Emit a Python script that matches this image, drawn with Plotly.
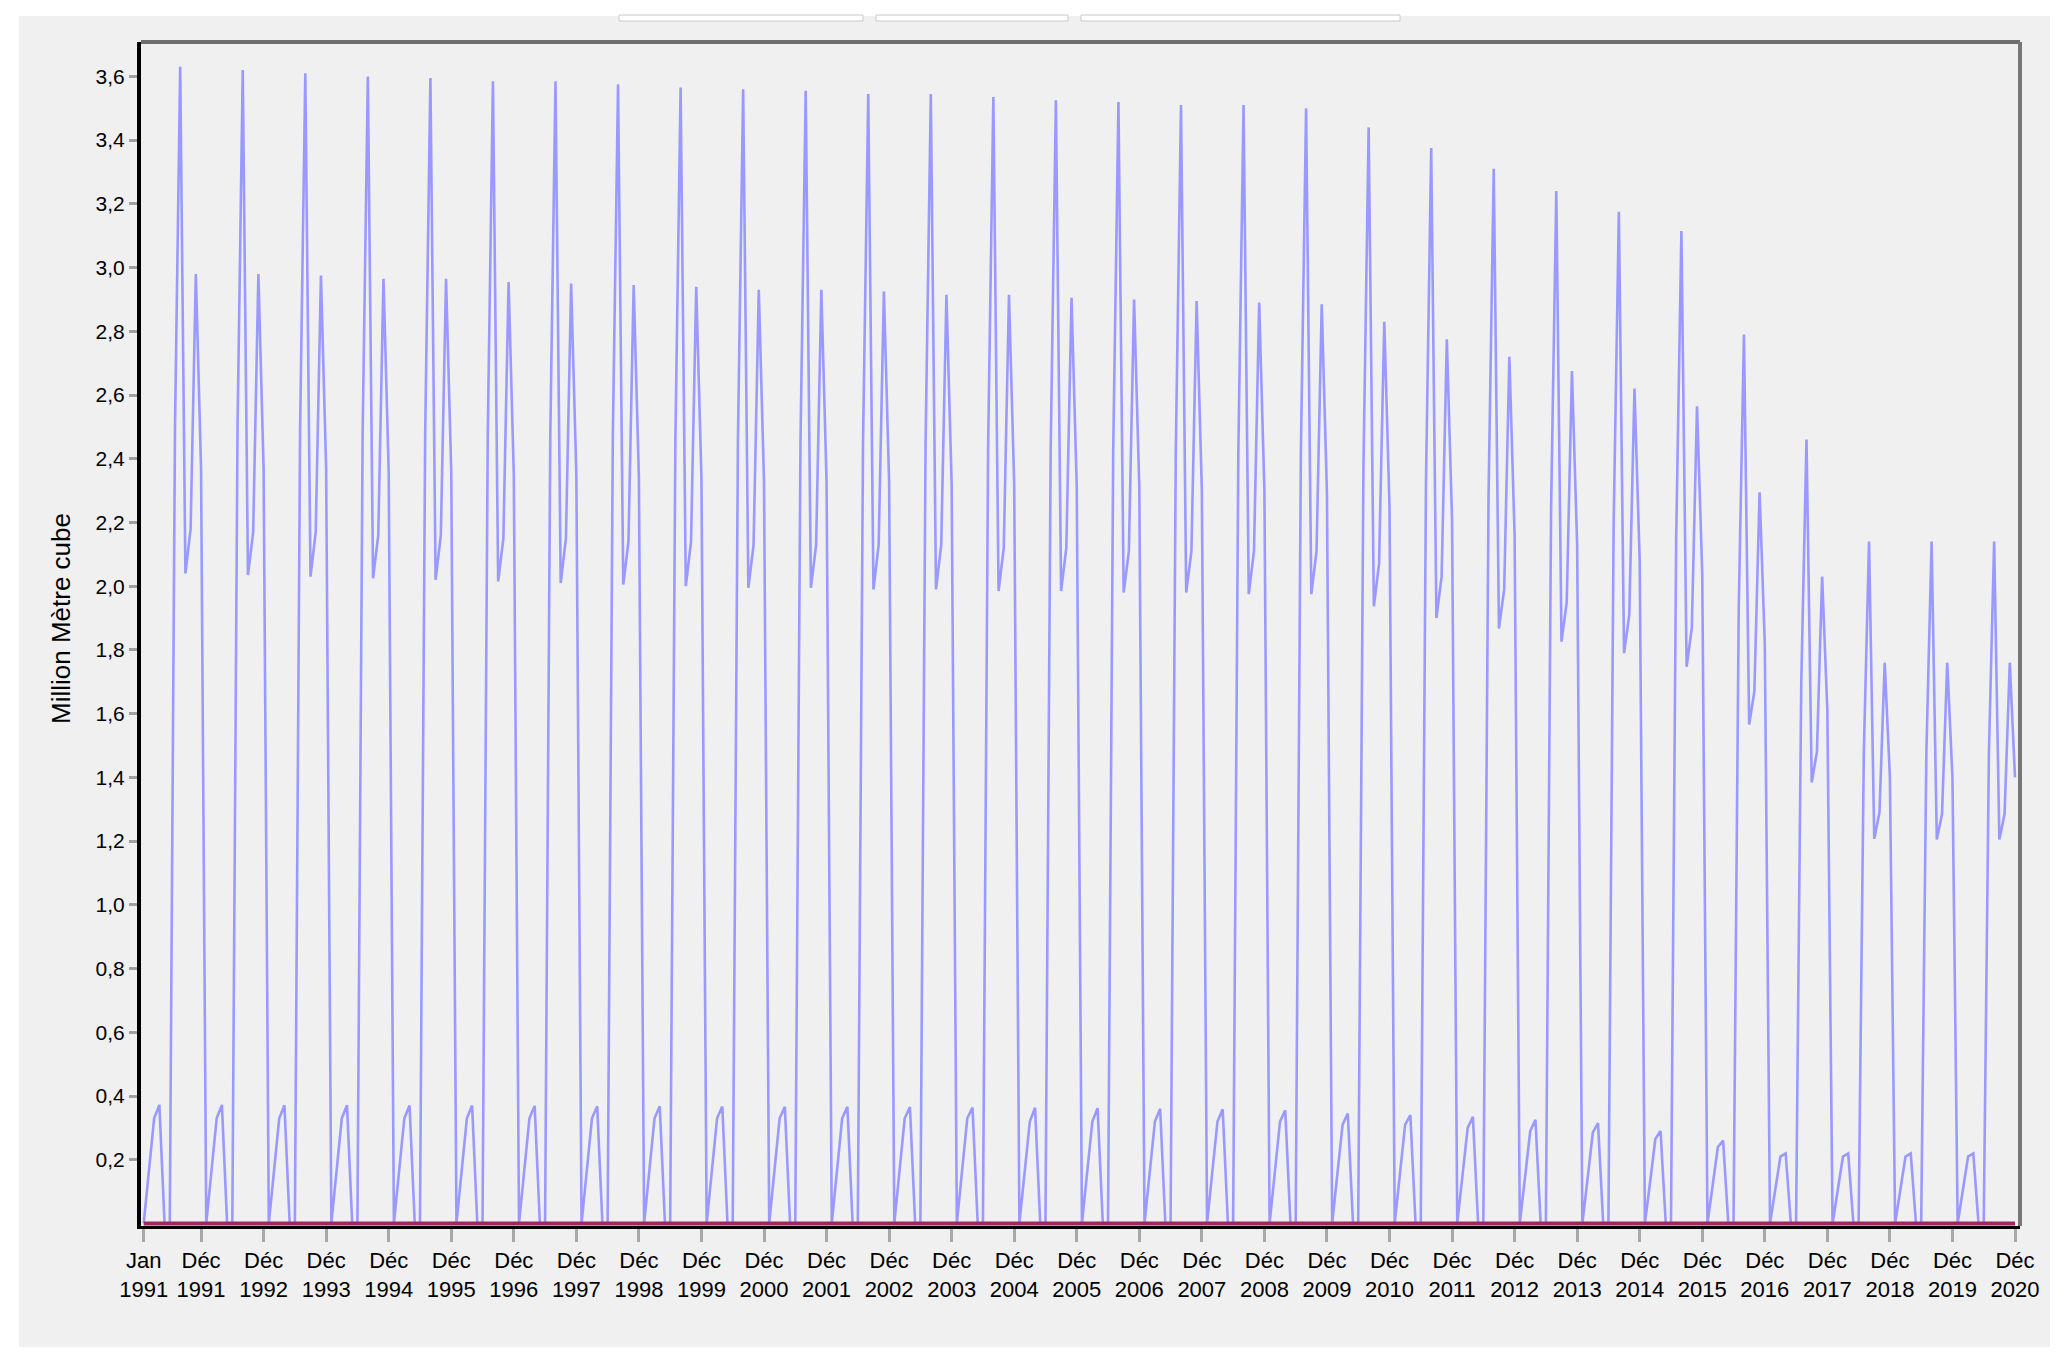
import plotly.graph_objects as go

# ---------------- data ----------------
years = list(range(1991, 2021))
month_names = ["Jan", "Fév", "Mar", "Avr", "Mai", "Jun", "Jul", "Aoû", "Sep", "Oct", "Nov", "Déc"]

jan = [0.0] * 30
feb = [0.165] * 14 + [0.16] * 5 + [0.155, 0.155, 0.15, 0.145, 0.14, 0.13, 0.12, 0.105, 0.105, 0.105, 0.105]
mar = [0.33] * 14 + [0.32] * 5 + [0.31, 0.31, 0.30, 0.29, 0.285, 0.265, 0.24, 0.21, 0.21, 0.21, 0.21]
apr = [0.372, 0.372, 0.371, 0.371, 0.370, 0.370, 0.369, 0.368, 0.368, 0.367, 0.366, 0.366, 0.365, 0.364,
       0.363, 0.362, 0.360, 0.358, 0.355, 0.345, 0.34, 0.335, 0.325, 0.315, 0.29, 0.26, 0.22, 0.22, 0.22, 0.22]
may = [0.0] * 30
jun = [0.0] * 30
jul = [2.50, 2.50, 2.49, 2.48, 2.48, 2.47, 2.47, 2.47, 2.46, 2.46, 2.45, 2.45, 2.45, 2.44, 2.43,
       2.43, 2.42, 2.42, 2.42, 2.37, 2.33, 2.28, 2.24, 2.19, 2.15, 1.93, 1.70, 1.48, 1.48, 1.48]
aug = [3.63, 3.62, 3.61, 3.60, 3.595, 3.585, 3.585, 3.575, 3.565, 3.56, 3.555, 3.545, 3.545, 3.535, 3.525,
       3.52, 3.51, 3.51, 3.50, 3.44, 3.375, 3.31, 3.24, 3.175, 3.115, 2.79, 2.46, 2.14, 2.14, 2.14]
sep = [2.04, 2.035, 2.03, 2.025, 2.02, 2.015, 2.01, 2.005, 2.0, 1.995, 1.995, 1.99, 1.99, 1.985, 1.985,
       1.98, 1.98, 1.975, 1.975, 1.937, 1.90, 1.867, 1.826, 1.79, 1.747, 1.566, 1.384, 1.207, 1.205, 1.205]
octo = [2.18, 2.17, 2.17, 2.16, 2.16, 2.15, 2.15, 2.14, 2.14, 2.13, 2.13, 2.13, 2.13, 2.12, 2.12,
        2.11, 2.11, 2.11, 2.11, 2.07, 2.03, 1.99, 1.95, 1.91, 1.87, 1.67, 1.48, 1.29, 1.285, 1.285]
nov = [2.98, 2.98, 2.975, 2.965, 2.965, 2.955, 2.95, 2.945, 2.94, 2.93, 2.93, 2.925, 2.915, 2.915, 2.905,
       2.90, 2.895, 2.89, 2.885, 2.83, 2.775, 2.72, 2.675, 2.62, 2.565, 2.295, 2.03, 1.76, 1.76, 1.76]
dec = [2.37, 2.37, 2.37, 2.36, 2.36, 2.35, 2.35, 2.34, 2.34, 2.33, 2.33, 2.33, 2.32, 2.32, 2.31,
       2.31, 2.30, 2.30, 2.29, 2.25, 2.21, 2.16, 2.13, 2.08, 2.04, 1.82, 1.61, 1.40, 1.40, 1.40]

ytick_vals = [0.2, 0.4, 0.6, 0.8, 1.0, 1.2, 1.4, 1.6, 1.8, 2.0, 2.2, 2.4, 2.6, 2.8, 3.0, 3.2, 3.4, 3.6]
ytick_text = ["0,2", "0,4", "0,6", "0,8", "1,0", "1,2", "1,4", "1,6", "1,8", "2,0", "2,2", "2,4",
              "2,6", "2,8", "3,0", "3,2", "3,4", "3,6"]
y_title = "Million Mètre cube"

# ---------------- build monthly series ----------------
by_month = [jan, feb, mar, apr, may, jun, jul, aug, sep, octo, nov, dec]
x_idx, values = [], []
for yi, yr in enumerate(years):
    for m in range(12):
        x_idx.append(yi * 12 + m)
        values.append(by_month[m][yi])
zeros = [0.0] * len(x_idx)

tick_vals = [0] + [yi * 12 + 11 for yi in range(len(years))]
tick_text = ["Jan<br>1991"] + [f"Déc<br>{yr}" for yr in years]

# ---------------- figure ----------------
W, H = 2067, 1366
L, R, T, B = 141, 47, 42, 140
pw, ph = W - L - R, H - T - B

def px(xp):
    return (xp - L) / pw

def py(yp):
    return (H - B - yp) / ph

FONT = "Liberation Sans, Arial, sans-serif"

fig = go.Figure()
fig.add_trace(go.Scatter(x=x_idx, y=values, mode="lines",
                         line=dict(color="#9999FF", width=2.6), showlegend=False))
fig.add_trace(go.Scatter(x=x_idx, y=zeros, mode="lines",
                         line=dict(color="#9C2A60", width=4), showlegend=False))

shapes = [
    # grey panel
    dict(type="rect", xref="paper", yref="paper", x0=px(19), x1=px(2050), y0=py(1347), y1=py(16),
         fillcolor="#F0F0F0", line=dict(width=0), layer="below"),
    # top / right borders of the plot
    dict(type="line", xref="paper", yref="paper", x0=0, x1=1, y0=1, y1=1,
         line=dict(color="#6E6E6E", width=4)),
    dict(type="line", xref="paper", yref="paper", x0=1, x1=1, y0=0, y1=1,
         line=dict(color="#777777", width=4)),
]
for a, b in [(619, 863), (876, 1068), (1081, 1400)]:
    shapes.append(dict(type="rect", xref="paper", yref="paper", x0=px(a), x1=px(b), y0=py(21), y1=py(15),
                       fillcolor="#FFFFFF", line=dict(color="#C8C8C8", width=1)))

fig.update_layout(
    width=W, height=H,
    margin=dict(l=L, r=R, t=T, b=B, pad=0),
    paper_bgcolor="#FFFFFF",
    plot_bgcolor="#F0F0F0",
    shapes=shapes,
    font=dict(family=FONT, size=21, color="#000000"),
    xaxis=dict(range=[-0.52, 359.96], tickmode="array", tickvals=tick_vals, ticktext=tick_text,
               showgrid=False, zeroline=False, showline=True, linecolor="#000000", linewidth=3,
               ticks="outside", ticklen=13, tickwidth=3, tickcolor="#A8A8A8",
               tickfont=dict(family=FONT, size=22, color="#000000"), tickangle=0),
    yaxis=dict(range=[-0.008, 3.708], tickmode="array", tickvals=ytick_vals, ticktext=ytick_text,
               showgrid=False, zeroline=False, showline=True, linecolor="#000000", linewidth=4,
               ticks="outside", ticklen=8, tickwidth=3, tickcolor="#A0A0A0",
               tickfont=dict(family=FONT, size=21, color="#000000")),
    annotations=[dict(text=y_title, xref="paper", yref="paper", x=px(61), y=py(619),
                      xanchor="center", yanchor="middle", textangle=-90, showarrow=False,
                      font=dict(family=FONT, size=26, color="#000000"))],
)

fig.write_html("out.html", config={"displayModeBar": False},
               post_script="document.body.style.margin='0px';document.body.style.overflow='hidden';")
